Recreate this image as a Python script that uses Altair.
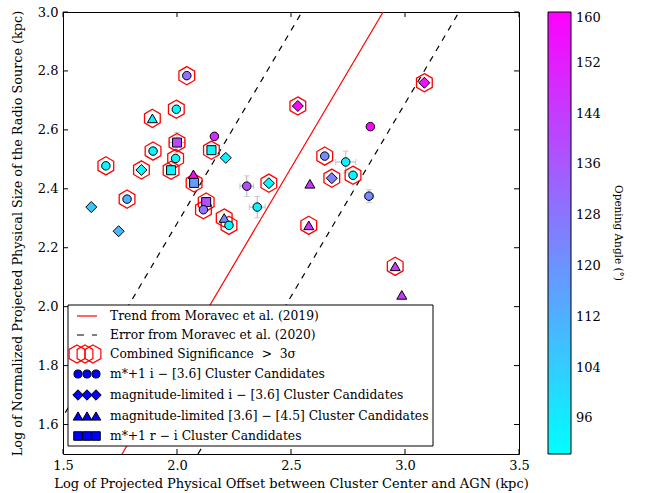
import altair as alt
import pandas as pd

# ---------------- data ----------------
offset = [2.043, 1.997, 1.892, 2.000, 2.164, 2.151, 2.214, 1.895, 1.994, 1.688,
          1.844, 1.974, 2.072, 2.075, 1.624, 1.781, 1.744, 2.128, 2.116, 2.207,
          2.228, 2.306, 2.352, 2.403, 2.530, 2.648, 2.740, 2.679, 2.772, 2.583,
          2.848, 2.842, 2.578, 3.085, 2.957, 2.986]
size_kpc = [2.784, 2.670, 2.639, 2.557, 2.578, 2.531, 2.505, 2.528, 2.503, 2.478,
            2.464, 2.463, 2.449, 2.420, 2.338, 2.365, 2.256, 2.355, 2.329, 2.301,
            2.276, 2.409, 2.338, 2.419, 2.681, 2.511, 2.491, 2.436, 2.446, 2.417,
            2.611, 2.375, 2.276, 2.760, 2.137, 2.040]
kind = ["circle", "circle", "triangle", "square", "circle", "square", "diamond", "circle", "circle", "circle",
        "diamond", "square", "triangle", "square", "diamond", "circle", "diamond", "square", "circle", "triangle",
        "circle", "circle", "circle", "diamond", "diamond", "circle", "circle", "diamond", "circle", "triangle",
        "circle", "circle", "triangle", "diamond", "triangle", "triangle"]
opening_angle = [130, 92, 95, 140, 148, 92, 95, 93, 93, 93,
                 93, 93, 158, 118, 105, 112, 110, 138, 128, 122,
                 92, 138, 95, 93, 158, 122, 93, 125, 93, 145,
                 158, 122, 145, 155, 145, 145]
significant = [1, 1, 1, 1, 0, 1, 0, 1, 1, 1,
               1, 1, 0, 1, 0, 1, 0, 1, 1, 1,
               1, 0, 0, 1, 1, 1, 0, 1, 1, 0,
               0, 0, 1, 1, 1, 0]

err_x = [2.000, 2.306, 2.352, 2.740, 2.842]
err_y = [2.557, 2.409, 2.338, 2.491, 2.375]
err_dx = [0.035, 0.030, 0.035, 0.044, 0.020]
err_dy = [0.035, 0.035, 0.036, 0.037, 0.022]

trend_x = [1.759, 2.904]
band_lo_x = [1.403, 2.548]
band_hi_x = [2.092, 3.237]
line_y = [1.5, 3.0]

x_ticks = [1.5, 2.0, 2.5, 3.0, 3.5]
y_ticks = [1.6, 1.8, 2.0, 2.2, 2.4, 2.6, 2.8, 3.0]
cbar_ticks = [96, 104, 112, 120, 128, 136, 144, 152, 160]

NB = "\u00a0"
legend_labels = [
    "Trend from Moravec et al. (2019)",
    "Error from Moravec et al. (2020)",
    "Combined Significance" + NB * 2 + ">" + NB * 2 + "3σ",
    "m*+1 i − [3.6] Cluster Candidates",
    "magnitude-limited i − [3.6] Cluster Candidates",
    "magnitude-limited [3.6] − [4.5] Cluster Candidates",
    "m*+1 r − i Cluster Candidates",
]

# ---------------- styling ----------------
FONT = "DejaVu Serif"
W, H = 456, 442
HEX = "M0,-1L0.866,-0.5L0.866,0.5L0,1L-0.866,0.5L-0.866,-0.5Z"
kinds = ["circle", "diamond", "triangle", "square"]
vshapes = ["circle", "diamond", "triangle-up", "square"]
vsizes = [72, 121, 100, 81]
size_expr = ("datum.kind == 'circle' ? 72 : datum.kind == 'diamond' ? 121 : "
             "datum.kind == 'triangle' ? 100 : 81")

xs = alt.Scale(domain=[1.5, 3.5], nice=False, zero=False)
ys = alt.Scale(domain=[1.5, 3.0], nice=False, zero=False)

xaxis = alt.Axis(title="Log of Projected Physical Offset between Cluster Center and AGN (kpc)",
                 values=x_ticks, format=".1f", tickSize=0, domain=False, grid=False,
                 labelFontSize=13, labelPadding=5, titleFontSize=13, titleFontWeight="normal",
                 titlePadding=5, labelColor="black", titleColor="black", labelFlush=False)
yaxis = alt.Axis(title="Log of Normalized Projected Physical Size of the Radio Source (kpc)",
                 values=y_ticks, format=".1f", tickSize=0, domain=False, grid=False,
                 labelFontSize=13, labelPadding=5, titleFontSize=12.8, titleFontWeight="normal",
                 titlePadding=13, labelColor="black", titleColor="black", labelFlush=False)

pts = pd.DataFrame({"x": offset, "y": size_kpc, "kind": kind,
                    "angle": opening_angle, "sig": significant})
errs = pd.DataFrame({"x": err_x, "y": err_y, "dx": err_dx, "dy": err_dy})
errs["x0"] = errs["x"] - errs["dx"]
errs["x1"] = errs["x"] + errs["dx"]
errs["y0"] = errs["y"] - errs["dy"]
errs["y1"] = errs["y"] + errs["dy"]

lines = pd.DataFrame({
    "x": trend_x + band_lo_x + band_hi_x,
    "y": line_y * 3,
    "which": ["trend"] * 2 + ["lo"] * 2 + ["hi"] * 2,
})

def X(f):
    return alt.X(f, type="quantitative", scale=xs, axis=xaxis)

def Y(f):
    return alt.Y(f, type="quantitative", scale=ys, axis=yaxis)

# inward tick marks on all four sides
xt = pd.DataFrame({"x": x_ticks})
yt = pd.DataFrame({"y": y_ticks})
tick_layers = [
    alt.Chart(xt).mark_rule(color="black", strokeWidth=1).encode(x=X("x"), y=alt.value(H), y2=alt.value(H - 5)),
    alt.Chart(xt).mark_rule(color="black", strokeWidth=1).encode(x=X("x"), y=alt.value(0), y2=alt.value(5)),
    alt.Chart(yt).mark_rule(color="black", strokeWidth=1).encode(y=Y("y"), x=alt.value(0), x2=alt.value(5)),
    alt.Chart(yt).mark_rule(color="black", strokeWidth=1).encode(y=Y("y"), x=alt.value(W), x2=alt.value(W - 5)),
]

trend = alt.Chart(lines).transform_filter(alt.datum.which == "trend").mark_line(
    color="red", strokeWidth=1.2, clip=True).encode(x=X("x"), y=Y("y"))
band = alt.Chart(lines).transform_filter(alt.datum.which != "trend").mark_line(
    color="black", strokeWidth=1.2, strokeDash=[6, 6], clip=True).encode(
    x=X("x"), y=Y("y"), detail="which:N")

EB = "#b5b5b5"
ebx = alt.Chart(errs).mark_rule(color=EB, strokeWidth=1).encode(x=X("x0"), x2="x1", y=Y("y"))
eby = alt.Chart(errs).mark_rule(color=EB, strokeWidth=1).encode(y=Y("y0"), y2="y1", x=X("x"))
cap_lo = alt.Chart(errs).mark_tick(color=EB, orient="horizontal", size=6, thickness=1).encode(x=X("x"), y=Y("y0"))
cap_hi = alt.Chart(errs).mark_tick(color=EB, orient="horizontal", size=6, thickness=1).encode(x=X("x"), y=Y("y1"))
cap_l = alt.Chart(errs).mark_tick(color=EB, orient="vertical", size=6, thickness=1).encode(x=X("x0"), y=Y("y"))
cap_r = alt.Chart(errs).mark_tick(color=EB, orient="vertical", size=6, thickness=1).encode(x=X("x1"), y=Y("y"))

hexes = alt.Chart(pts).transform_filter(alt.datum.sig == 1).mark_point(
    shape=HEX, filled=False, stroke="red", strokeWidth=1.3, size=330, opacity=1).encode(x=X("x"), y=Y("y"))

cscale = alt.Scale(domain=[90.4, 160], range=["#00ffff", "#ff00ff"], interpolate="rgb")
cleg = alt.Legend(title="Opening Angle (°)", orient="none", legendX=485, legendY=0,
                  direction="vertical", gradientLength=H, gradientThickness=23,
                  gradientStrokeColor="black", gradientStrokeWidth=1, values=cbar_ticks,
                  labelFont=FONT, labelFontSize=13, labelOffset=5, labelBaseline="middle",
                  labelColor="black", labelOverlap=False,
                  titleOrient="right", titleFont=FONT, titleFontSize=10.5,
                  titleFontWeight="normal", titleColor="black", titleAnchor="middle",
                  titlePadding=12)

points = alt.Chart(pts).transform_calculate(sz=size_expr).mark_point(
    filled=True, stroke="black", strokeWidth=1, opacity=1).encode(
    x=X("x"),
    y=Y("y"),
    shape=alt.Shape("kind:N", scale=alt.Scale(domain=kinds, range=vshapes), legend=None),
    size=alt.Size("sz:Q", scale=None),
    color=alt.Color("angle:Q", scale=cscale, legend=cleg),
)

# ---------------- manual legend box ----------------
one = alt.InlineData(values=[{"k": 1}])
row_y = [304, 323, 342, 362, 383, 404, 424]
leg = [alt.Chart(one).mark_rect(fill="white", stroke="black", strokeWidth=1).encode(
    x=alt.value(5), x2=alt.value(370), y=alt.value(293), y2=alt.value(434))]
leg.append(alt.Chart(one).mark_rule(color="red", strokeWidth=1.2).encode(
    x=alt.value(14), x2=alt.value(34), y=alt.value(row_y[0])))
leg.append(alt.Chart(one).mark_rule(color="black", strokeWidth=1.2, strokeDash=[7, 8]).encode(
    x=alt.value(14), x2=alt.value(34), y=alt.value(row_y[1])))
for hx in [14, 22, 30]:
    leg.append(alt.Chart(one).mark_point(shape=HEX, filled=False, stroke="red", strokeWidth=1.2,
                                         size=330, opacity=1).encode(x=alt.value(hx), y=alt.value(row_y[2])))
for i, shp in enumerate(vshapes):
    for mx in [15, 24, 33]:
        leg.append(alt.Chart(one).mark_point(shape=shp, filled=True, fill="#0000ff", stroke="black",
                                             strokeWidth=1, size=vsizes[i] * 0.9, opacity=1).encode(
            x=alt.value(mx), y=alt.value(row_y[3 + i])))
for lab, yv in zip(legend_labels, row_y):
    leg.append(alt.Chart(one).mark_text(align="left", baseline="middle", font=FONT, fontSize=12.3,
                                        color="black").encode(
        x=alt.value(47), y=alt.value(yv), text=alt.value(lab)))

chart = alt.layer(
    *tick_layers, trend, band, ebx, eby, cap_lo, cap_hi, cap_l, cap_r, hexes, points, *leg
).resolve_scale(shape="independent").properties(
    width=W, height=H,
    autosize=alt.AutoSizeParams(type="none"),
    padding={"left": 63, "top": 12, "right": 128, "bottom": 39},
).configure(font=FONT).configure_view(stroke="black", strokeWidth=1)

chart.save("out.html", embed_options={"renderer": "svg", "actions": False})
